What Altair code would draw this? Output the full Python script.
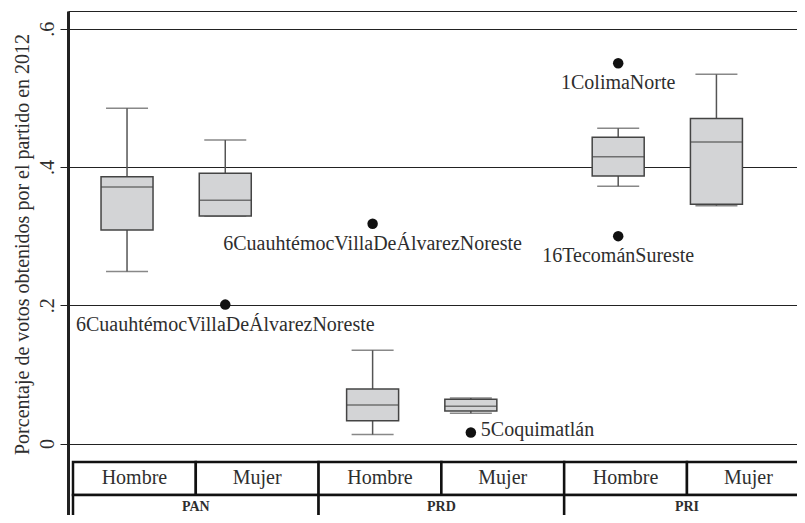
import altair as alt
import pandas as pd

# ---------------- data ----------------
parties = ["PAN", "PRD", "PRI"]
sexes = ["Hombre", "Mujer"]

box_party = ["PAN", "PAN", "PRD", "PRD", "PRI", "PRI"]
box_sex = ["Hombre", "Mujer", "Hombre", "Mujer", "Hombre", "Mujer"]
whisker_low = [0.249, 0.329, 0.013, 0.044, 0.372, 0.344]
q1 = [0.309, 0.329, 0.033, 0.047, 0.387, 0.346]
median = [0.371, 0.352, 0.056, 0.054, 0.415, 0.436]
q3 = [0.386, 0.391, 0.079, 0.064, 0.443, 0.470]
whisker_high = [0.485, 0.439, 0.135, 0.066, 0.456, 0.534]

out_party = ["PAN", "PRD", "PRD", "PRI", "PRI"]
out_sex = ["Mujer", "Hombre", "Mujer", "Hombre", "Hombre"]
out_value = [0.201, 0.318, 0.016, 0.550, 0.300]
out_label = ["6CuauhtémocVillaDeÁlvarezNoreste", "6CuauhtémocVillaDeÁlvarezNoreste",
             "5Coquimatlán", "1ColimaNorte", "16TecománSureste"]

y_ticks = [0, 0.2, 0.4, 0.6]
y_title = "Porcentaje de votos obtenidos por el partido en 2012"

# ---------------- layout (not data) ----------------
FULL_W = 747          # px spanned by the three party groups
VIS_W = 729           # px of it visible in the window
VIS_H = 504           # px from plot top to the visible bottom
PXU = 691.5           # px per unit of vote share
Y_TOP = 0.6256
Y_PLOT_BOTTOM = -0.0266
SEX_ROW_H = 33 / PXU
PARTY_ROW_H = 35 / PXU
PARTY_TXT_DROP = 12 / PXU
Y_DOMAIN = [Y_TOP - VIS_H / PXU, Y_TOP]
X_DOMAIN = [0, len(parties) * VIS_W / FULL_W]
SEX_OFFSET = {"Hombre": 0.22, "Mujer": 0.62}
FONT = "Liberation Serif"
TXT = "#2e2e2e"
LINE = "#222222"

boxes = pd.DataFrame({
    "party": box_party, "sex": box_sex,
    "lo": whisker_low, "q1": q1, "med": median, "q3": q3, "hi": whisker_high,
})
boxes["xpos"] = [parties.index(p) + SEX_OFFSET[s] for p, s in zip(box_party, box_sex)]

outs = pd.DataFrame({"party": out_party, "sex": out_sex, "v": out_value, "lab": out_label})
outs["xpos"] = [parties.index(p) + SEX_OFFSET[s] for p, s in zip(out_party, out_sex)]

xscale = alt.Scale(domain=X_DOMAIN, nice=False, zero=False)
yscale = alt.Scale(domain=Y_DOMAIN, nice=False, zero=False)

x_enc = alt.X("xpos:Q", scale=xscale,
              axis=alt.Axis(orient="top", labels=False, ticks=False, grid=False,
                            domain=True, domainColor=LINE, domainWidth=1, title=None))

y_axis = alt.Axis(
    values=y_ticks, grid=True, gridColor=LINE, gridWidth=1,
    domain=True, domainColor=LINE, domainWidth=3,
    ticks=True, tickSize=8, tickColor=LINE, tickWidth=1,
    labelExpr="datum.value == 0 ? '0' : replace(format(datum.value, '.1f'), '0.', '.')",
    labelAngle=270, labelAlign="center", labelBaseline="alphabetic", labelPadding=7,
    labelFont=FONT, labelFontSize=20, labelColor=TXT,
    title=y_title, titleFont=FONT, titleFontSize=20, titleFontWeight="normal",
    titleColor=TXT, titleAngle=270, titleAlign="center", titleBaseline="alphabetic",
    titleX=-40, titleY=233,
)

base = alt.Chart(boxes)

whisk = base.mark_rule(color="#555555", strokeWidth=1.5).encode(
    x=x_enc, y=alt.Y("lo:Q", scale=yscale, axis=y_axis), y2="hi:Q")
cap_lo = base.mark_tick(orient="horizontal", size=42, thickness=1.5, color="#555555").encode(
    x=alt.X("xpos:Q", scale=xscale), y=alt.Y("lo:Q", scale=yscale))
cap_hi = base.mark_tick(orient="horizontal", size=42, thickness=1.5, color="#555555").encode(
    x=alt.X("xpos:Q", scale=xscale), y=alt.Y("hi:Q", scale=yscale))
box = base.mark_bar(size=52, fill="#d3d4d6", stroke="#444444", strokeWidth=1.5).encode(
    x=alt.X("xpos:Q", scale=xscale), y=alt.Y("q1:Q", scale=yscale), y2="q3:Q")
med = base.mark_tick(orient="horizontal", size=52, thickness=1.5, color="#444444").encode(
    x=alt.X("xpos:Q", scale=xscale), y=alt.Y("med:Q", scale=yscale))

obase = alt.Chart(outs)
dots = obase.mark_circle(size=110, color="#111111", opacity=1).encode(
    x=alt.X("xpos:Q", scale=xscale), y=alt.Y("v:Q", scale=yscale))
lab_below = obase.transform_filter("datum.lab != '5Coquimatlán'").mark_text(
    font=FONT, fontSize=20, color=TXT, align="center", baseline="middle", dy=20).encode(
    x=alt.X("xpos:Q", scale=xscale), y=alt.Y("v:Q", scale=yscale), text="lab:N")
lab_right = obase.transform_filter("datum.lab == '5Coquimatlán'").mark_text(
    font=FONT, fontSize=20, color=TXT, align="left", baseline="middle", dx=10, dy=-3).encode(
    x=alt.X("xpos:Q", scale=xscale), y=alt.Y("v:Q", scale=yscale), text="lab:N")

# ---------------- category table below the plot ----------------
rows = []
for gi, p in enumerate(parties):
    for si, s in enumerate(sexes):
        top_y = Y_PLOT_BOTTOM
        rows.append({"row": "sex", "x0": gi + si * 0.5, "x1": gi + si * 0.5 + 0.5, "lab": s,
                     "y0": top_y, "y1": top_y - SEX_ROW_H, "yc": top_y - SEX_ROW_H / 2})
    top_y = Y_PLOT_BOTTOM - SEX_ROW_H
    rows.append({"row": "party", "x0": gi, "x1": gi + 1, "lab": p,
                 "y0": top_y, "y1": top_y - PARTY_ROW_H, "yc": top_y - PARTY_TXT_DROP})
cells = pd.DataFrame(rows)
cells["xc"] = (cells["x0"] + cells["x1"]) / 2

tbase = alt.Chart(cells)
rects = tbase.mark_rect(fill="white", stroke="#111111", strokeWidth=2.5).encode(
    x=alt.X("x0:Q", scale=xscale), x2="x1:Q",
    y=alt.Y("y0:Q", scale=yscale), y2="y1:Q")
sex_txt = tbase.transform_filter("datum.row == 'sex'").mark_text(
    font=FONT, fontSize=20, color=TXT, baseline="middle").encode(
    x=alt.X("xc:Q", scale=xscale), y=alt.Y("yc:Q", scale=yscale), text="lab:N")
party_txt = tbase.transform_filter("datum.row == 'party'").mark_text(
    font=FONT, fontSize=14, fontWeight="bold", color=TXT, baseline="middle").encode(
    x=alt.X("xc:Q", scale=xscale), y=alt.Y("yc:Q", scale=yscale), text="lab:N")

chart = alt.layer(
    rects, whisk, cap_lo, cap_hi, box, med, dots, lab_below, lab_right, sex_txt, party_txt
).properties(
    width=VIS_W, height=VIS_H,
    padding={"left": 60, "top": 3, "right": 0, "bottom": 0},
    autosize=alt.AutoSizeParams(type="none"),
).configure_view(stroke=None)

chart.save("out.html", embed_options={"renderer": "svg", "actions": False})
